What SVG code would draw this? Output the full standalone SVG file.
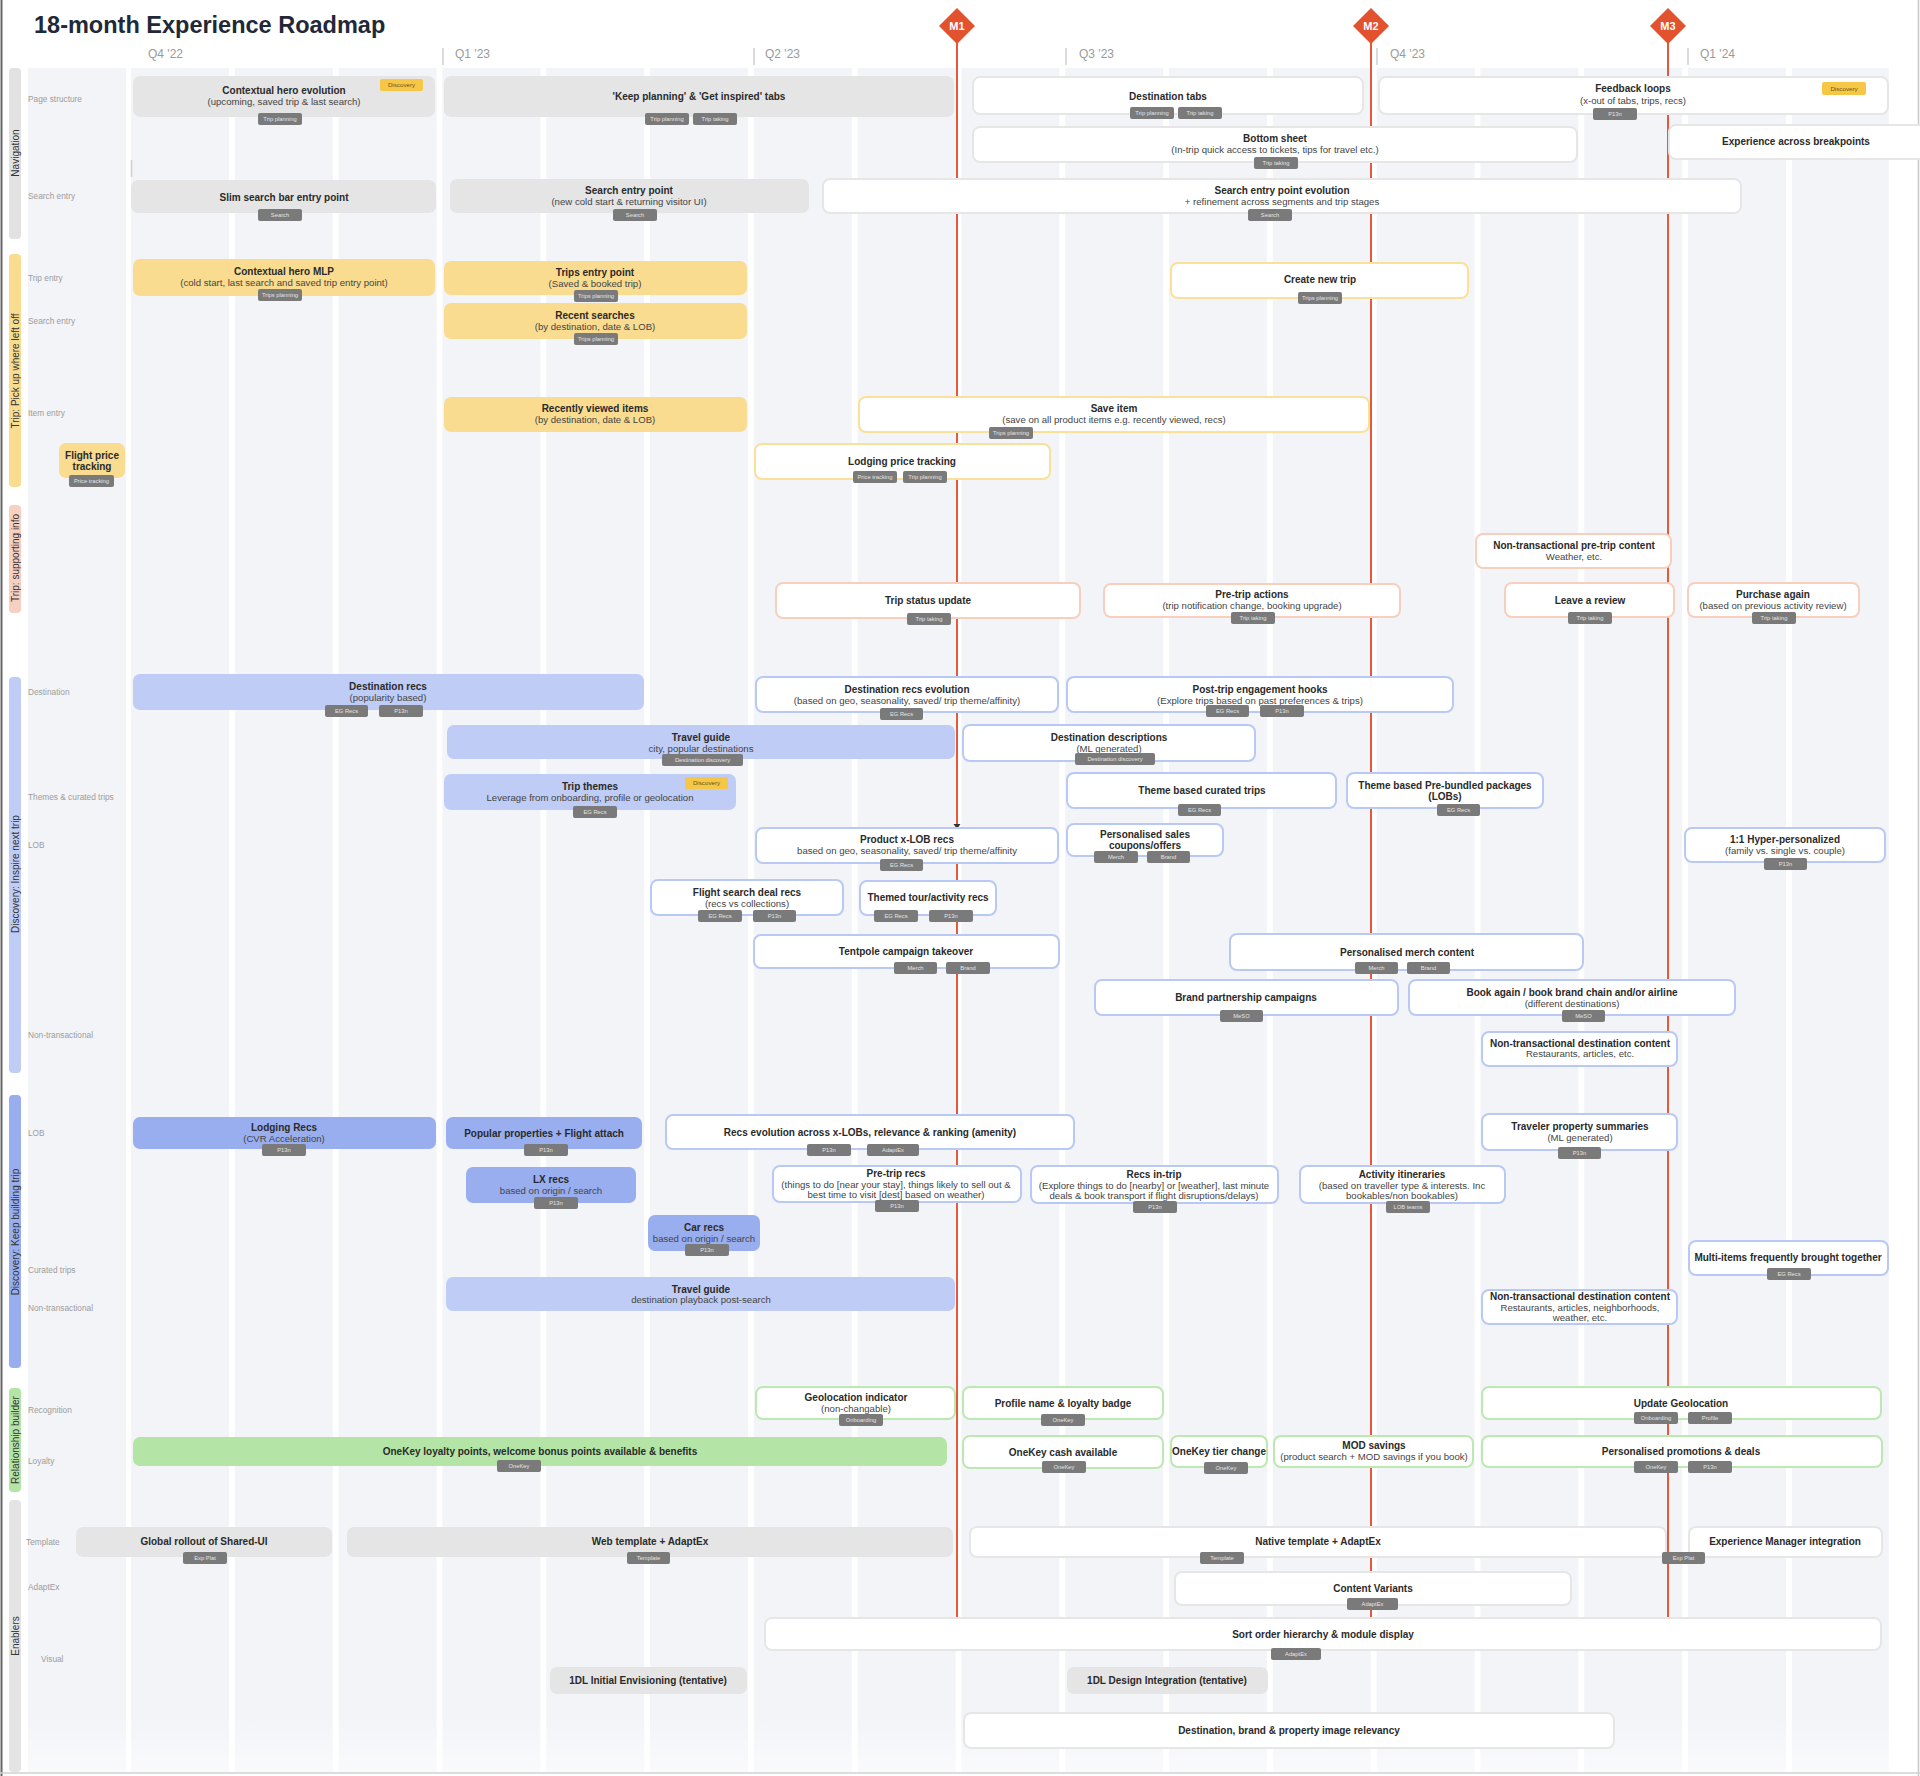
<svg xmlns="http://www.w3.org/2000/svg" width="1920" height="1776" viewBox="0 0 1920 1776">
<defs>
<style>
text{font-family:"Liberation Sans",Arial,sans-serif}
.col{fill:#f3f4f8}
.t{font-size:10px;font-weight:bold;fill:#2a2a2a;text-anchor:middle}
.s{font-size:9.6px;fill:#444;text-anchor:middle}
.rl{font-size:8.3px;fill:#9c9c9c}
.sec{font-size:10px;fill:#333;text-anchor:middle}
.q{font-size:12px;fill:#9a9a9a}
.ql{stroke:#cfcfcf;stroke-width:1.5}
.tr{fill:#7a7a7a}
.tt{font-size:5.8px;fill:#e4e4e4;text-anchor:middle}
.bd{fill:#f6c746}
.bt{font-size:6.2px;fill:#6a5418;text-anchor:middle}
.g{fill:#e5e5e5}
.y{fill:#f9dc90}
.yo{fill:#fff;stroke:#fbe09a;stroke-width:2}
.so{fill:#fff;stroke:#f8cfbd;stroke-width:2}
.lb{fill:#bfccf5}
.bo{fill:#fff;stroke:#b9c9f5;stroke-width:2}
.mb{fill:#99aeee}
.gr{fill:#b4e5a6}
.go{fill:#fff;stroke:#bce8b1;stroke-width:2}
.wo{fill:#fff;stroke:#e6e6e6;stroke-width:2}
.ms{stroke:#e5583a;stroke-width:2;fill:none}
.md{fill:#e2522f}
.mt{font-size:11px;font-weight:bold;fill:#fff;text-anchor:middle}
</style>
<linearGradient id="fade" x1="0" y1="0" x2="0" y2="1">
<stop offset="0" stop-color="#fff" stop-opacity="0"/>
<stop offset="1" stop-color="#fff" stop-opacity="0.55"/>
</linearGradient>
</defs>
<rect width="1920" height="1776" fill="#fff"/>
<g id="grid">
<rect class="col" x="28" y="68" width="98" height="1704"/>
<rect class="col" x="131" y="68" width="98" height="1704"/>
<rect class="col" x="234.8" y="68" width="98" height="1704"/>
<rect class="col" x="338.6" y="68" width="98" height="1704"/>
<rect class="col" x="442.4" y="68" width="98" height="1704"/>
<rect class="col" x="546.2" y="68" width="98" height="1704"/>
<rect class="col" x="650" y="68" width="98" height="1704"/>
<rect class="col" x="753.8" y="68" width="98" height="1704"/>
<rect class="col" x="857.6" y="68" width="98" height="1704"/>
<rect class="col" x="961.4" y="68" width="98" height="1704"/>
<rect class="col" x="1065.2" y="68" width="98" height="1704"/>
<rect class="col" x="1169" y="68" width="98" height="1704"/>
<rect class="col" x="1272.8" y="68" width="98" height="1704"/>
<rect class="col" x="1376.6" y="68" width="98" height="1704"/>
<rect class="col" x="1480.4" y="68" width="98" height="1704"/>
<rect class="col" x="1584.2" y="68" width="98" height="1704"/>
<rect class="col" x="1688" y="68" width="98" height="1704"/>
<rect class="col" x="1791.8" y="68" width="97" height="1704"/>
<rect x="28" y="1715" width="1861" height="57" fill="url(#fade)"/>
<line x1="1.5" y1="0" x2="1.5" y2="1776" stroke="#666" stroke-width="2"/>
<line x1="1918.5" y1="0" x2="1918.5" y2="1776" stroke="#c8c8c8" stroke-width="1.5"/>
<line x1="0" y1="1773" x2="1920" y2="1773" stroke="#d0d0d0" stroke-width="1.5"/>
<line x1="131.5" y1="160" x2="131.5" y2="177" class="ql"/>
</g>
<g id="header">
<text x="34" y="33" font-size="23.5" font-weight="bold" fill="#1f2937">18-month Experience Roadmap</text>
<line class="ql" x1="443" y1="48" x2="443" y2="65"/>
<line class="ql" x1="754" y1="48" x2="754" y2="65"/>
<line class="ql" x1="1066" y1="48" x2="1066" y2="65"/>
<line class="ql" x1="1377" y1="48" x2="1377" y2="65"/>
<line class="ql" x1="1688" y1="48" x2="1688" y2="65"/>
<text class="q" x="148" y="58">Q4 '22</text>
<text class="q" x="455" y="58">Q1 '23</text>
<text class="q" x="765" y="58">Q2 '23</text>
<text class="q" x="1079" y="58">Q3 '23</text>
<text class="q" x="1390" y="58">Q4 '23</text>
<text class="q" x="1700" y="58">Q1 '24</text>
</g>
<g id="sections">
<rect x="9" y="68" width="12" height="171" rx="4" fill="#e2e2e2"/>
<text class="sec" transform="translate(18.5,153) rotate(-90)">Navigation</text>
<rect x="9" y="254" width="12" height="233" rx="4" fill="#f9dc90"/>
<text class="sec" transform="translate(18.5,371) rotate(-90)">Trip: Pick up where left off</text>
<rect x="9" y="505" width="12" height="108" rx="4" fill="#f8d0c2"/>
<text class="sec" transform="translate(18.5,558) rotate(-90)">Trip: supporting info</text>
<rect x="9" y="677" width="12" height="396" rx="4" fill="#bfccf5"/>
<text class="sec" transform="translate(18.5,874) rotate(-90)">Discovery: Inspire next trip</text>
<rect x="9" y="1095" width="12" height="273" rx="4" fill="#99aeee"/>
<text class="sec" transform="translate(18.5,1232) rotate(-90)">Discovery: Keep building trip</text>
<rect x="9" y="1388" width="12" height="104" rx="4" fill="#b4e5a6"/>
<text class="sec" transform="translate(18.5,1440) rotate(-90)">Relationship builder</text>
<rect x="9" y="1500" width="12" height="272" rx="4" fill="#e4e4e4"/>
<text class="sec" transform="translate(18.5,1636) rotate(-90)">Enablers</text>
</g>
<g id="row-labels">
<text class="rl" x="28" y="102">Page structure</text>
<text class="rl" x="28" y="199">Search entry</text>
<text class="rl" x="28" y="281">Trip entry</text>
<text class="rl" x="28" y="324">Search entry</text>
<text class="rl" x="28" y="416">Item entry</text>
<text class="rl" x="28" y="695">Destination</text>
<text class="rl" x="28" y="800">Themes &amp; curated trips</text>
<text class="rl" x="28" y="848">LOB</text>
<text class="rl" x="28" y="1038">Non-transactional</text>
<text class="rl" x="28" y="1136">LOB</text>
<text class="rl" x="28" y="1273">Curated trips</text>
<text class="rl" x="28" y="1311">Non-transactional</text>
<text class="rl" x="28" y="1413">Recognition</text>
<text class="rl" x="28" y="1464">Loyalty</text>
<text class="rl" x="26" y="1545">Template</text>
<text class="rl" x="28" y="1590">AdaptEx</text>
<text class="rl" x="41" y="1662">Visual</text>
</g>
<g id="connectors">
<line class="ms" x1="957" y1="40" x2="957" y2="1617"/>
<line class="ms" x1="1371" y1="40" x2="1371" y2="1617"/>
<line class="ms" x1="1668" y1="40" x2="1668" y2="1617"/>
<path d="M953.5 824 L960.5 824 L957 829 Z" fill="#333"/>
</g>
<g id="milestones">
<g id="m1"><polygon class="md" points="957,8 975,26 957,44 939,26"/><text class="mt" x="957" y="30">M1</text></g>
<g id="m2"><polygon class="md" points="1371,8 1389,26 1371,44 1353,26"/><text class="mt" x="1371" y="30">M2</text></g>
<g id="m3"><polygon class="md" points="1668,8 1686,26 1668,44 1650,26"/><text class="mt" x="1668" y="30">M3</text></g>
</g>
<g id="nodes">
<g id="n1"><rect class="g" x="133" y="76" width="302" height="41" rx="7"/><text class="t" x="284" y="93.5">Contextual hero evolution</text><text class="s" x="284" y="104.5">(upcoming, saved trip &amp; last search)</text><rect class="tr" x="258" y="113" width="44" height="12" rx="2"/><text class="tt" x="280" y="121">Trip planning</text><rect class="bd" x="380" y="79" width="43" height="12" rx="2"/><text class="bt" x="401.5" y="87.3">Discovery</text></g>
<g id="n2"><rect class="g" x="444" y="76" width="510" height="41" rx="7"/><text class="t" x="699" y="99.5">'Keep planning' &amp; 'Get inspired' tabs</text><rect class="tr" x="645" y="113" width="44" height="12" rx="2"/><text class="tt" x="667" y="121">Trip planning</text><rect class="tr" x="693" y="113" width="44" height="12" rx="2"/><text class="tt" x="715" y="121">Trip taking</text></g>
<g id="n3"><rect class="wo" x="973" y="77" width="390" height="37" rx="7"/><text class="t" x="1168" y="99.5">Destination tabs</text><rect class="tr" x="1130" y="107" width="44" height="12" rx="2"/><text class="tt" x="1152" y="115">Trip planning</text><rect class="tr" x="1178" y="107" width="44" height="12" rx="2"/><text class="tt" x="1200" y="115">Trip taking</text></g>
<g id="n4"><rect class="wo" x="1379" y="77" width="509" height="37" rx="7"/><text class="t" x="1633" y="91.5">Feedback loops</text><text class="s" x="1633" y="103.5">(x-out of tabs, trips, recs)</text><rect class="tr" x="1593" y="108" width="44" height="12" rx="2"/><text class="tt" x="1615" y="116">P13n</text><rect class="bd" x="1822" y="82" width="44" height="13" rx="2"/><text class="bt" x="1844" y="90.8">Discovery</text></g>
<g id="n5"><rect class="wo" x="973" y="127" width="604" height="35" rx="7"/><text class="t" x="1275" y="141.5">Bottom sheet</text><text class="s" x="1275" y="152.5">(In-trip quick access to tickets, tips for travel etc.)</text><rect class="tr" x="1254" y="157" width="44" height="12" rx="2"/><text class="tt" x="1276" y="165">Trip taking</text></g>
<g id="n6"><rect class="wo" x="1669" y="125" width="262" height="34" rx="7"/><text class="t" x="1796" y="144.5">Experience across breakpoints</text></g>
<g id="n7"><rect class="g" x="131" y="180" width="305" height="33" rx="7"/><text class="t" x="284" y="200.5">Slim search bar entry point</text><rect class="tr" x="258" y="209" width="44" height="12" rx="2"/><text class="tt" x="280" y="217">Search</text></g>
<g id="n8"><rect class="g" x="450" y="179" width="359" height="34" rx="7"/><text class="t" x="629" y="193.5">Search entry point</text><text class="s" x="629" y="204.5">(new cold start &amp; returning visitor UI)</text><rect class="tr" x="613" y="209" width="44" height="12" rx="2"/><text class="tt" x="635" y="217">Search</text></g>
<g id="n9"><rect class="wo" x="823" y="179" width="918" height="34" rx="7"/><text class="t" x="1282" y="193.5">Search entry point evolution</text><text class="s" x="1282" y="204.5">+ refinement across segments and trip stages</text><rect class="tr" x="1248" y="209" width="44" height="12" rx="2"/><text class="tt" x="1270" y="217">Search</text></g>
<g id="n10"><rect class="y" x="133" y="259" width="302" height="37" rx="7"/><text class="t" x="284" y="274.5">Contextual hero MLP</text><text class="s" x="284" y="285.5">(cold start, last search and saved trip entry point)</text><rect class="tr" x="258" y="289" width="44" height="12" rx="2"/><text class="tt" x="280" y="297">Trips planning</text></g>
<g id="n11"><rect class="y" x="444" y="261" width="303" height="34" rx="7"/><text class="t" x="595" y="275.5">Trips entry point</text><text class="s" x="595" y="286.5">(Saved &amp; booked trip)</text><rect class="tr" x="574" y="290" width="44" height="12" rx="2"/><text class="tt" x="596" y="298">Trips planning</text></g>
<g id="n12"><rect class="y" x="444" y="303" width="303" height="36" rx="7"/><text class="t" x="595" y="318.5">Recent searches</text><text class="s" x="595" y="329.5">(by destination, date &amp; LOB)</text><rect class="tr" x="574" y="333" width="44" height="12" rx="2"/><text class="tt" x="596" y="341">Trips planning</text></g>
<g id="n13"><rect class="y" x="444" y="397" width="303" height="35" rx="7"/><text class="t" x="595" y="411.5">Recently viewed items</text><text class="s" x="595" y="422.5">(by destination, date &amp; LOB)</text></g>
<g id="n14"><rect class="yo" x="1171" y="263" width="297" height="35" rx="7"/><text class="t" x="1320" y="282.5">Create new trip</text><rect class="tr" x="1298" y="292" width="44" height="12" rx="2"/><text class="tt" x="1320" y="300">Trips planning</text></g>
<g id="n15"><rect class="yo" x="859" y="397" width="510" height="35" rx="7"/><text class="t" x="1114" y="411.5">Save item</text><text class="s" x="1114" y="422.5">(save on all product items e.g. recently viewed, recs)</text><rect class="tr" x="989" y="427" width="44" height="12" rx="2"/><text class="tt" x="1011" y="435">Trips planning</text></g>
<g id="n16"><rect class="y" x="59" y="443" width="66" height="35" rx="7"/><text class="t" x="92" y="458.5">Flight price</text><text class="t" x="92" y="469.5">tracking</text><rect class="tr" x="69" y="475" width="45" height="12" rx="2"/><text class="tt" x="91.5" y="483">Price tracking</text></g>
<g id="n17"><rect class="yo" x="755" y="444" width="295" height="35" rx="7"/><text class="t" x="902" y="464.5">Lodging price tracking</text><rect class="tr" x="853" y="471" width="44" height="12" rx="2"/><text class="tt" x="875" y="479">Price tracking</text><rect class="tr" x="903" y="471" width="44" height="12" rx="2"/><text class="tt" x="925" y="479">Trip planning</text></g>
<g id="n18"><rect class="so" x="1476" y="534" width="195" height="34" rx="7"/><text class="t" x="1574" y="548.5">Non-transactional pre-trip content</text><text class="s" x="1574" y="559.5">Weather, etc.</text></g>
<g id="n19"><rect class="so" x="776" y="583" width="304" height="35" rx="7"/><text class="t" x="928" y="603.5">Trip status update</text><rect class="tr" x="907" y="613" width="44" height="12" rx="2"/><text class="tt" x="929" y="621">Trip taking</text></g>
<g id="n20"><rect class="so" x="1104" y="584" width="296" height="33" rx="7"/><text class="t" x="1252" y="597.5">Pre-trip actions</text><text class="s" x="1252" y="608.5">(trip notification change, booking upgrade)</text><rect class="tr" x="1231" y="612" width="44" height="12" rx="2"/><text class="tt" x="1253" y="620">Trip taking</text></g>
<g id="n21"><rect class="so" x="1505" y="583" width="169" height="34" rx="7"/><text class="t" x="1590" y="603.5">Leave a review</text><rect class="tr" x="1568" y="612" width="44" height="12" rx="2"/><text class="tt" x="1590" y="620">Trip taking</text></g>
<g id="n22"><rect class="so" x="1688" y="583" width="171" height="34" rx="7"/><text class="t" x="1773" y="597.5">Purchase again</text><text class="s" x="1773" y="608.5">(based on previous activity review)</text><rect class="tr" x="1752" y="612" width="44" height="12" rx="2"/><text class="tt" x="1774" y="620">Trip taking</text></g>
<g id="n23"><rect class="lb" x="133" y="674" width="511" height="36" rx="7"/><text class="t" x="388" y="689.5">Destination recs</text><text class="s" x="388" y="700.5">(popularity based)</text><rect class="tr" x="325" y="705" width="43" height="12" rx="2"/><text class="tt" x="346.5" y="713">EG Recs</text><rect class="tr" x="379" y="705" width="44" height="12" rx="2"/><text class="tt" x="401" y="713">P13n</text></g>
<g id="n24"><rect class="lb" x="447" y="725" width="508" height="34" rx="7"/><text class="t" x="701" y="740.5">Travel guide</text><text class="s" x="701" y="751.5">city, popular destinations</text><rect class="tr" x="662" y="754" width="81" height="12" rx="2"/><text class="tt" x="702.5" y="762">Destination discovery</text></g>
<g id="n25"><rect class="lb" x="444" y="774" width="292" height="36" rx="7"/><text class="t" x="590" y="789.5">Trip themes</text><text class="s" x="590" y="800.5">Leverage from onboarding, profile or geolocation</text><rect class="tr" x="573" y="806" width="44" height="12" rx="2"/><text class="tt" x="595" y="814">EG Recs</text><rect class="bd" x="685" y="777" width="43" height="12" rx="2"/><text class="bt" x="706.5" y="785.3">Discovery</text></g>
<g id="n26"><rect class="bo" x="756" y="677" width="302" height="35" rx="7"/><text class="t" x="907" y="692.5">Destination recs evolution</text><text class="s" x="907" y="703.5">(based on geo, seasonality, saved/ trip theme/affinity)</text><rect class="tr" x="880" y="708" width="43" height="12" rx="2"/><text class="tt" x="901.5" y="716">EG Recs</text></g>
<g id="n27"><rect class="bo" x="1067" y="677" width="386" height="35" rx="7"/><text class="t" x="1260" y="692.5">Post-trip engagement hooks</text><text class="s" x="1260" y="703.5">(Explore trips based on past preferences &amp; trips)</text><rect class="tr" x="1206" y="705" width="43" height="12" rx="2"/><text class="tt" x="1227.5" y="713">EG Recs</text><rect class="tr" x="1260" y="705" width="44" height="12" rx="2"/><text class="tt" x="1282" y="713">P13n</text></g>
<g id="n28"><rect class="bo" x="963" y="725" width="292" height="36" rx="7"/><text class="t" x="1109" y="740.5">Destination descriptions</text><text class="s" x="1109" y="751.5">(ML generated)</text><rect class="tr" x="1075" y="753" width="80" height="12" rx="2"/><text class="tt" x="1115" y="761">Destination discovery</text></g>
<g id="n29"><rect class="bo" x="1067" y="773" width="269" height="35" rx="7"/><text class="t" x="1202" y="793.5">Theme based curated trips</text><rect class="tr" x="1178" y="804" width="43" height="12" rx="2"/><text class="tt" x="1199.5" y="812">EG Recs</text></g>
<g id="n30"><rect class="bo" x="1347" y="773" width="196" height="35" rx="7"/><text class="t" x="1445" y="788.5">Theme based Pre-bundled packages</text><text class="t" x="1445" y="799.5">(LOBs)</text><rect class="tr" x="1437" y="804" width="43" height="12" rx="2"/><text class="tt" x="1458.5" y="812">EG Recs</text></g>
<g id="n31"><rect class="bo" x="756" y="828" width="302" height="35" rx="7"/><text class="t" x="907" y="842.5">Product x-LOB recs</text><text class="s" x="907" y="853.5">based on geo, seasonality, saved/ trip theme/affinity</text><rect class="tr" x="880" y="859" width="43" height="12" rx="2"/><text class="tt" x="901.5" y="867">EG Recs</text></g>
<g id="n32"><rect class="bo" x="1067" y="824" width="156" height="32" rx="7"/><text class="t" x="1145" y="837.5">Personalised sales</text><text class="t" x="1145" y="848.5">coupons/offers</text><rect class="tr" x="1094" y="851" width="44" height="12" rx="2"/><text class="tt" x="1116" y="859">Merch</text><rect class="tr" x="1147" y="851" width="43" height="12" rx="2"/><text class="tt" x="1168.5" y="859">Brand</text></g>
<g id="n33"><rect class="bo" x="1685" y="828" width="200" height="34" rx="7"/><text class="t" x="1785" y="842.5">1:1 Hyper-personalized</text><text class="s" x="1785" y="853.5">(family vs. single vs. couple)</text><rect class="tr" x="1764" y="858" width="43" height="12" rx="2"/><text class="tt" x="1785.5" y="866">P13n</text></g>
<g id="n34"><rect class="bo" x="651" y="880" width="192" height="35" rx="7"/><text class="t" x="747" y="895.5">Flight search deal recs</text><text class="s" x="747" y="906.5">(recs vs collections)</text><rect class="tr" x="698" y="910" width="44" height="12" rx="2"/><text class="tt" x="720" y="918">EG Recs</text><rect class="tr" x="753" y="910" width="43" height="12" rx="2"/><text class="tt" x="774.5" y="918">P13n</text></g>
<g id="n35"><rect class="bo" x="860" y="881" width="136" height="34" rx="7"/><text class="t" x="928" y="900.5">Themed tour/activity recs</text><rect class="tr" x="874" y="910" width="44" height="12" rx="2"/><text class="tt" x="896" y="918">EG Recs</text><rect class="tr" x="929" y="910" width="44" height="12" rx="2"/><text class="tt" x="951" y="918">P13n</text></g>
<g id="n36"><rect class="bo" x="754" y="935" width="305" height="33" rx="7"/><text class="t" x="906" y="954.5">Tentpole campaign takeover</text><rect class="tr" x="894" y="962" width="43" height="12" rx="2"/><text class="tt" x="915.5" y="970">Merch</text><rect class="tr" x="946" y="962" width="44" height="12" rx="2"/><text class="tt" x="968" y="970">Brand</text></g>
<g id="n37"><rect class="bo" x="1230" y="934" width="353" height="36" rx="7"/><text class="t" x="1407" y="955.5">Personalised merch content</text><rect class="tr" x="1355" y="962" width="43" height="12" rx="2"/><text class="tt" x="1376.5" y="970">Merch</text><rect class="tr" x="1407" y="962" width="43" height="12" rx="2"/><text class="tt" x="1428.5" y="970">Brand</text></g>
<g id="n38"><rect class="bo" x="1095" y="980" width="303" height="35" rx="7"/><text class="t" x="1246" y="1000.5">Brand partnership campaigns</text><rect class="tr" x="1220" y="1010" width="43" height="12" rx="2"/><text class="tt" x="1241.5" y="1018">MeSO</text></g>
<g id="n39"><rect class="bo" x="1409" y="980" width="326" height="35" rx="7"/><text class="t" x="1572" y="995.5">Book again / book brand chain and/or airline</text><text class="s" x="1572" y="1006.5">(different destinations)</text><rect class="tr" x="1562" y="1010" width="43" height="12" rx="2"/><text class="tt" x="1583.5" y="1018">MeSO</text></g>
<g id="n40"><rect class="bo" x="1482" y="1032" width="195" height="34" rx="7"/><text class="t" x="1580" y="1046.5">Non-transactional destination content</text><text class="s" x="1580" y="1057">Restaurants, articles, etc.</text></g>
<g id="n41"><rect class="mb" x="133" y="1117" width="303" height="32" rx="7"/><text class="t" x="284" y="1130.5">Lodging Recs</text><text class="s" x="284" y="1141.5">(CVR Acceleration)</text><rect class="tr" x="262" y="1144" width="44" height="12" rx="2"/><text class="tt" x="284" y="1152">P13n</text></g>
<g id="n42"><rect class="mb" x="446" y="1117" width="196" height="32" rx="7"/><text class="t" x="544" y="1136.5">Popular properties + Flight attach</text><rect class="tr" x="524" y="1144" width="44" height="12" rx="2"/><text class="tt" x="546" y="1152">P13n</text></g>
<g id="n43"><rect class="mb" x="466" y="1167" width="170" height="36" rx="7"/><text class="t" x="551" y="1182.5">LX recs</text><text class="s" x="551" y="1193.5">based on origin / search</text><rect class="tr" x="534" y="1197" width="44" height="12" rx="2"/><text class="tt" x="556" y="1205">P13n</text></g>
<g id="n44"><rect class="mb" x="648" y="1215" width="112" height="36" rx="7"/><text class="t" x="704" y="1230.5">Car recs</text><text class="s" x="704" y="1241.5">based on origin / search</text><rect class="tr" x="685" y="1244" width="44" height="12" rx="2"/><text class="tt" x="707" y="1252">P13n</text></g>
<g id="n45"><rect class="lb" x="446" y="1277" width="509" height="34" rx="7"/><text class="t" x="701" y="1292.5">Travel guide</text><text class="s" x="701" y="1302.5">destination playback post-search</text></g>
<g id="n46"><rect class="bo" x="666" y="1115" width="408" height="34" rx="7"/><text class="t" x="870" y="1135.5">Recs evolution across x-LOBs, relevance &amp; ranking (amenity)</text><rect class="tr" x="807" y="1144" width="44" height="12" rx="2"/><text class="tt" x="829" y="1152">P13n</text><rect class="tr" x="867" y="1144" width="52" height="12" rx="2"/><text class="tt" x="893" y="1152">AdaptEx</text></g>
<g id="n47"><rect class="bo" x="773" y="1166" width="248" height="36" rx="7"/><text class="t" x="896" y="1176.5">Pre-trip recs</text><text class="s" x="896" y="1187.5">(things to do [near your stay], things likely to sell out &amp;</text><text class="s" x="896" y="1197.5">best time to visit [dest] based on weather)</text><rect class="tr" x="875" y="1200" width="44" height="12" rx="2"/><text class="tt" x="897" y="1208">P13n</text></g>
<g id="n48"><rect class="bo" x="1031" y="1166" width="247" height="37" rx="7"/><text class="t" x="1154" y="1177.5">Recs in-trip</text><text class="s" x="1154" y="1188.5">(Explore things to do [nearby] or [weather], last minute</text><text class="s" x="1154" y="1199">deals &amp; book transport if flight disruptions/delays)</text><rect class="tr" x="1133" y="1201" width="44" height="12" rx="2"/><text class="tt" x="1155" y="1209">P13n</text></g>
<g id="n49"><rect class="bo" x="1300" y="1166" width="205" height="37" rx="7"/><text class="t" x="1402" y="1177.5">Activity itineraries</text><text class="s" x="1402" y="1188.5">(based on traveller type &amp; interests. Inc</text><text class="s" x="1402" y="1199">bookables/non bookables)</text><rect class="tr" x="1386" y="1201" width="44" height="12" rx="2"/><text class="tt" x="1408" y="1209">LOB teams</text></g>
<g id="n50"><rect class="bo" x="1482" y="1114" width="195" height="36" rx="7"/><text class="t" x="1580" y="1129.5">Traveler property summaries</text><text class="s" x="1580" y="1140.5">(ML generated)</text><rect class="tr" x="1558" y="1147" width="43" height="12" rx="2"/><text class="tt" x="1579.5" y="1155">P13n</text></g>
<g id="n51"><rect class="bo" x="1689" y="1241" width="199" height="34" rx="7"/><text class="t" x="1788" y="1260.5">Multi-items frequently brought together</text><rect class="tr" x="1767" y="1268" width="44" height="12" rx="2"/><text class="tt" x="1789" y="1276">EG Recs</text></g>
<g id="n52"><rect class="bo" x="1482" y="1290" width="195" height="34" rx="7"/><text class="t" x="1580" y="1299.5">Non-transactional destination content</text><text class="s" x="1580" y="1310.5">Restaurants, articles, neighborhoods,</text><text class="s" x="1580" y="1321">weather, etc.</text></g>
<g id="n53"><rect class="go" x="756" y="1387" width="199" height="32" rx="7"/><text class="t" x="856" y="1400.5">Geolocation indicator</text><text class="s" x="856" y="1411.5">(non-changable)</text><rect class="tr" x="839" y="1414" width="44" height="12" rx="2"/><text class="tt" x="861" y="1422">Onboarding</text></g>
<g id="n54"><rect class="go" x="963" y="1387" width="200" height="32" rx="7"/><text class="t" x="1063" y="1406.5">Profile name &amp; loyalty badge</text><rect class="tr" x="1041" y="1414" width="44" height="12" rx="2"/><text class="tt" x="1063" y="1422">OneKey</text></g>
<g id="n55"><rect class="gr" x="133" y="1437" width="814" height="29" rx="7"/><text class="t" x="540" y="1454.5">OneKey loyalty points, welcome bonus points available &amp; benefits</text><rect class="tr" x="497" y="1460" width="44" height="12" rx="2"/><text class="tt" x="519" y="1468">OneKey</text></g>
<g id="n56"><rect class="go" x="963" y="1436" width="200" height="32" rx="7"/><text class="t" x="1063" y="1455.5">OneKey cash available</text><rect class="tr" x="1042" y="1461" width="44" height="12" rx="2"/><text class="tt" x="1064" y="1469">OneKey</text></g>
<g id="n57"><rect class="go" x="1171" y="1436" width="96" height="31" rx="7"/><text class="t" x="1219" y="1454.5">OneKey tier change</text><rect class="tr" x="1204" y="1462" width="44" height="12" rx="2"/><text class="tt" x="1226" y="1470">OneKey</text></g>
<g id="n58"><rect class="go" x="1274" y="1436" width="199" height="31" rx="7"/><text class="t" x="1374" y="1448.5">MOD savings</text><text class="s" x="1374" y="1459.5">(product search + MOD savings if you book)</text></g>
<g id="n59"><rect class="go" x="1482" y="1387" width="399" height="32" rx="7"/><text class="t" x="1681" y="1406.5">Update Geolocation</text><rect class="tr" x="1634" y="1412" width="44" height="12" rx="2"/><text class="tt" x="1656" y="1420">Onboarding</text><rect class="tr" x="1688" y="1412" width="44" height="12" rx="2"/><text class="tt" x="1710" y="1420">Profile</text></g>
<g id="n60"><rect class="go" x="1482" y="1436" width="400" height="31" rx="7"/><text class="t" x="1681" y="1454.5">Personalised promotions &amp; deals</text><rect class="tr" x="1634" y="1461" width="44" height="12" rx="2"/><text class="tt" x="1656" y="1469">OneKey</text><rect class="tr" x="1688" y="1461" width="44" height="12" rx="2"/><text class="tt" x="1710" y="1469">P13n</text></g>
<g id="n61"><rect class="g" x="76" y="1527" width="256" height="30" rx="7"/><text class="t" x="204" y="1544.5">Global rollout of Shared-UI</text><rect class="tr" x="183" y="1552" width="44" height="12" rx="2"/><text class="tt" x="205" y="1560">Exp Plat</text></g>
<g id="n62"><rect class="g" x="347" y="1527" width="606" height="30" rx="7"/><text class="t" x="650" y="1544.5">Web template + AdaptEx</text><rect class="tr" x="627" y="1552" width="43" height="12" rx="2"/><text class="tt" x="648.5" y="1560">Template</text></g>
<g id="n63"><rect class="wo" x="970" y="1527" width="696" height="30" rx="7"/><text class="t" x="1318" y="1544.5">Native template + AdaptEx</text><rect class="tr" x="1200" y="1552" width="44" height="12" rx="2"/><text class="tt" x="1222" y="1560">Template</text></g>
<g id="n64"><rect class="wo" x="1689" y="1527" width="193" height="30" rx="7"/><text class="t" x="1785" y="1544.5">Experience Manager integration</text><rect class="tr" x="1662" y="1552" width="43" height="12" rx="2"/><text class="tt" x="1683.5" y="1560">Exp Plat</text></g>
<g id="n65"><rect class="wo" x="1175" y="1572" width="396" height="33" rx="7"/><text class="t" x="1373" y="1591.5">Content Variants</text><rect class="tr" x="1347" y="1598" width="51" height="12" rx="2"/><text class="tt" x="1372.5" y="1606">AdaptEx</text></g>
<g id="n66"><rect class="wo" x="765" y="1618" width="1116" height="32" rx="7"/><text class="t" x="1323" y="1637.5">Sort order hierarchy &amp; module display</text><rect class="tr" x="1271" y="1648" width="50" height="12" rx="2"/><text class="tt" x="1296" y="1656">AdaptEx</text></g>
<g id="n67"><rect class="g" x="550" y="1667" width="197" height="27" rx="7"/><text class="t" x="648" y="1683.5">1DL Initial Envisioning (tentative)</text></g>
<g id="n68"><rect class="g" x="1067" y="1667" width="201" height="27" rx="7"/><text class="t" x="1167" y="1683.5">1DL Design Integration (tentative)</text></g>
<g id="n69"><rect class="wo" x="964" y="1713" width="650" height="35" rx="7"/><text class="t" x="1289" y="1733.5">Destination, brand &amp; property image relevancy</text></g>
</g>
</svg>
